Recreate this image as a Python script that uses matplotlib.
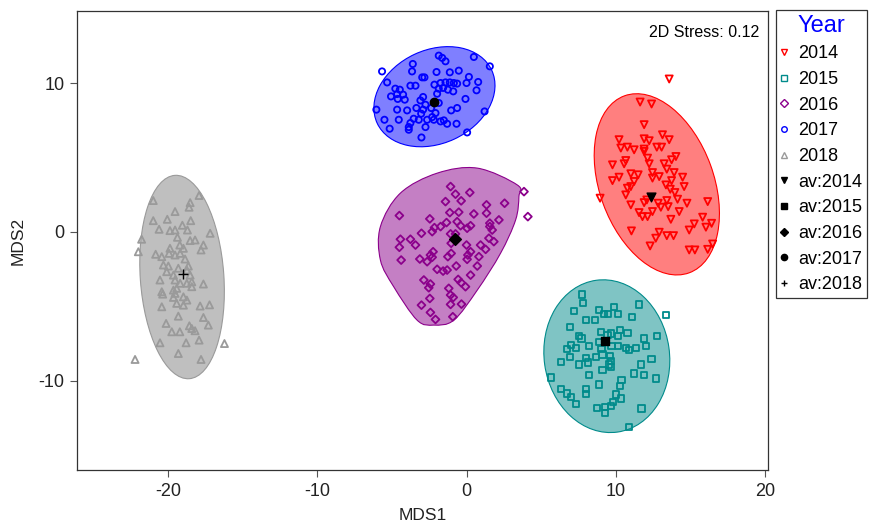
import numpy as np
import matplotlib
matplotlib.use("Agg")
import matplotlib.pyplot as plt
from matplotlib.patches import Ellipse, PathPatch
from matplotlib.path import Path
from matplotlib.lines import Line2D

plt.rcParams['font.family'] = ['Liberation Sans', 'DejaVu Sans']
plt.rcParams['axes.unicode_minus'] = False

years = ["2014", "2015", "2016", "2017", "2018"]

x_2014 = [13.58, 11.63, 12.40, 11.90, 10.22, 13.13, 13.58, 11.90, 12.24, 10.34, 10.78, 11.23, 11.90,
          11.90, 12.75, 13.07, 14.03, 13.74, 12.13, 12.24, 10.67, 10.56, 9.78, 13.24, 13.42, 12.46,
          11.01, 11.50, 10.22, 9.78, 12.46, 12.91, 13.91, 14.48, 11.23, 11.01, 13.74, 13.36, 14.58,
          10.78, 10.67, 13.65, 13.96, 14.14, 8.95, 11.90, 12.08, 11.01, 12.84, 13.42, 13.51, 13.02,
          14.77, 16.16, 11.56, 11.79, 12.13, 12.46, 14.25, 15.82, 13.69, 15.26, 14.92, 16.04, 16.42,
          11.05, 12.91, 12.68, 13.42, 13.87, 12.30, 16.49, 14.92, 15.30, 16.16]
y_2014 = [10.28, 8.73, 8.60, 7.21, 6.20, 6.53, 6.20, 6.26, 6.13, 5.64, 5.70, 5.52, 5.57,
          5.41, 5.70, 5.70, 5.07, 4.85, 4.96, 4.58, 4.80, 4.58, 4.51, 4.58, 4.22, 3.99,
          3.91, 3.84, 3.68, 3.45, 3.62, 3.72, 3.99, 3.68, 3.39, 3.05, 3.45, 3.16, 3.05,
          2.94, 2.49, 2.87, 2.65, 2.20, 2.27, 1.97, 2.15, 1.82, 1.93, 2.11, 1.70, 1.66,
          1.93, 2.04, 1.30, 1.03, 1.03, 1.37, 1.37, 0.99, 0.85, 0.54, 0.13, 0.32, 0.58,
          0.07, -0.02, -0.42, -0.25, -0.25, -0.94, -0.81, -1.21, -1.21, -1.17]

x_2015 = [7.72, 7.83, 7.20, 8.88, 9.89, 9.21, 9.48, 10.16, 11.57, 11.07, 13.36, 7.99, 8.59, 6.93,
          7.54, 7.70, 8.99, 9.66, 10.29, 10.78, 9.44, 10.16, 12.75, 11.90, 6.98, 6.71, 7.32, 8.21,
          8.88, 9.71, 10.16, 10.67, 10.89, 11.34, 12.01, 9.04, 6.93, 7.99, 8.68, 9.11, 9.62, 9.66,
          6.35, 7.54, 8.14, 9.55, 11.68, 12.40, 9.11, 9.66, 8.21, 11.23, 11.90, 12.68, 5.68, 8.88,
          10.29, 10.38, 6.35, 6.71, 6.98, 7.99, 7.99, 7.32, 10.00, 10.34, 9.84, 8.72, 9.26, 9.66,
          9.26, 11.72, 10.89]
y_2015 = [-4.20, -4.80, -5.30, -5.25, -5.03, -5.54, -5.52, -5.54, -4.87, -5.74, -5.59, -5.93, -5.93,
          -6.38, -7.00, -7.16, -6.75, -6.82, -6.60, -6.78, -6.94, -6.98, -6.98, -7.16, -7.61, -7.88,
          -7.79, -7.66, -7.39, -7.66, -7.68, -7.79, -7.95, -7.79, -7.66, -7.88, -8.40, -8.46, -8.40,
          -8.24, -8.35, -8.69, -8.73, -8.91, -8.78, -8.91, -8.91, -8.55, -9.29, -9.07, -9.63, -9.52,
          -9.63, -9.85, -9.79, -10.26, -10.35, -9.97, -10.53, -10.86, -11.09, -10.57, -10.91, -11.54,
          -10.93, -11.20, -11.43, -11.83, -11.76, -11.72, -12.17, -11.87, -13.11]

x_2016 = [-1.07, -0.74, 0.22, -1.41, -0.36, 3.85, 2.55, 1.34, -4.50, -1.12, -0.52, 0.49, 1.34, 4.11,
          -2.46, 2.17, -1.34, -1.74, -0.63, -0.40, 0.04, 0.27, 1.56, 1.56, 1.72, -2.30, -3.02, -2.15,
          -1.07, -0.74, -4.43, -3.76, 1.50, 1.83, -4.50, -3.42, -1.03, 0.00, 0.94, 1.28, -2.24, -2.42,
          -2.30, -2.64, -3.13, -1.25, -1.03, 0.09, 0.27, 0.04, 0.83, -4.38, -1.97, -1.57, -1.30, -0.69,
          0.72, -2.86, -2.42, -2.53, -1.19, -0.56, -0.36, 0.27, -0.07, -1.07, -0.89, -2.46, -3.02,
          -1.07, -0.34, -2.42, -2.08, -0.92]
y_2016 = [3.05, 2.54, 2.65, 2.04, 2.09, 2.71, 1.93, 1.82, 1.10, 1.30, 1.33, 1.21, 1.26, 1.03,
          0.88, 0.81, 0.63, 0.36, 0.69, 0.42, 0.25, 0.42, 0.59, 0.36, 0.13, 0.02, -0.09, 0.29,
          -0.13, -0.13, -0.49, -0.49, -0.42, -0.65, -1.03, -0.88, -0.76, -0.88, -0.88, -1.17, -1.33,
          -1.55, -1.70, -2.00, -1.82, -1.66, -1.44, -1.55, -1.33, -1.84, -1.66, -1.89, -2.51, -2.63,
          -2.56, -2.29, -2.29, -3.23, -3.50, -3.75, -3.79, -3.19, -3.41, -2.90, -3.68, -4.24, -4.40,
          -4.47, -4.92, -4.87, -4.85, -5.41, -5.88, -5.70]

x_2017 = [-5.66, -3.60, -3.65, -1.86, -1.63, -1.41, 0.49, 1.56, -2.97, -2.82, -2.01, -1.12, -0.52,
          -5.32, -4.77, -4.47, -3.76, -3.42, -2.15, -1.74, -1.41, -1.12, -0.85, -0.63, 0.16, 0.00,
          0.78, 0.67, -5.06, -4.65, -4.25, -4.61, -4.14, -1.86, -1.57, -1.25, -0.89, -1.97, -2.91,
          -3.09, -2.75, -1.86, -6.04, -4.65, -3.98, -3.36, -2.91, -2.37, -1.03, -0.63, -0.07, 1.21,
          -5.50, -4.54, -3.54, -3.20, -3.04, -2.64, -2.30, -2.08, -2.19, -1.74, -1.52, -1.30, -0.67,
          -3.76, -3.87, -5.15, -3.87, -2.75, 0.04, -3.02]
y_2017 = [10.79, 11.29, 10.79, 11.85, 11.70, 11.47, 11.76, 11.13, 10.39, 10.39, 10.75, 10.73, 10.84,
          10.05, 9.63, 9.56, 9.83, 9.83, 9.90, 10.01, 10.05, 10.05, 10.01, 9.97, 10.42, 10.01,
          10.08, 9.52, 9.11, 9.27, 9.23, 8.94, 8.89, 9.63, 9.68, 9.56, 9.45, 9.29, 9.07,
          8.84, 8.55, 8.67, 8.22, 8.22, 8.17, 8.33, 8.22, 8.33, 8.17, 8.33, 8.94, 8.10,
          7.54, 7.54, 7.61, 7.54, 7.95, 7.54, 7.72, 7.99, 7.54, 7.43, 7.50, 7.27, 7.27,
          7.32, 7.05, 6.94, 6.87, 7.05, 6.69, 6.35]

x_2018 = [-20.99, -17.92, -18.52, -18.59, -19.53, -20.99, -20.05, -18.48, -20.60, -19.87, -19.53,
          -19.04, -18.70, -17.18, -21.77, -18.52, -18.19, -19.37, -21.99, -20.83, -20.42, -19.87,
          -19.21, -19.93, -19.53, -19.19, -18.97, -17.63, -17.79, -18.86, -20.31, -19.98, -18.64,
          -20.09, -19.64, -19.31, -18.74, -18.52, -20.54, -19.53, -19.19, -18.74, -18.41, -18.41,
          -17.63, -20.42, -20.36, -19.64, -19.42, -19.53, -19.64, -18.97, -18.74, -20.42, -19.42,
          -18.97, -17.85, -17.22, -19.31, -17.63, -18.57, -17.30, -20.13, -19.75, -19.21, -18.41,
          -18.19, -20.54, -18.79, -17.92, -16.22, -22.21, -19.31, -17.79]
y_2018 = [2.11, 2.45, 1.97, 1.66, 1.37, 0.76, 0.85, 0.76, 0.18, 0.09, 0.13,
          0.45, 0.13, -0.09, -0.49, -0.58, -0.54, -0.36, -1.33, -1.50, -1.66, -1.10,
          -0.88, -1.44, -1.55, -1.44, -1.10, -0.88, -1.21, -1.82, -2.22, -2.29, -2.29,
          -2.67, -2.90, -2.44, -2.56, -2.90, -3.23, -3.23, -3.45, -3.45, -3.35, -3.68,
          -3.50, -4.02, -4.18, -3.91, -3.79, -4.13, -4.40, -4.36, -4.58, -5.03, -4.80,
          -4.92, -4.98, -4.90, -5.66, -5.75, -6.31, -6.26, -6.15, -6.71, -6.71, -6.49,
          -6.64, -7.45, -7.45, -7.27, -7.50, -8.57, -8.17, -8.57]

# group centroids
av_x = [12.35, 9.26, -0.74, -2.20, -19.00]
av_y = [2.36, -7.34, -0.47, 8.75, -2.83]

# ellipses: centre, width, height, angle (deg); 2016 is an outline instead
ell_cx = {"2014": 12.75, "2015": 9.40, "2017": -2.15, "2018": -19.06}
ell_cy = {"2014": 3.20, "2015": -8.35, "2017": 9.09, "2018": -3.03}
ell_w = {"2014": 7.65, "2015": 8.40, "2017": 8.46, "2018": 5.60}
ell_h = {"2014": 12.66, "2015": 10.30, "2017": 6.29, "2018": 13.70}
ell_ang = {"2014": 20, "2015": 8, "2017": 25, "2018": 4}

hull_x_2016 = [3.40, 0.72, -1.97, -4.43, -5.77, -5.77, -4.88, -3.31, -2.19, -0.85, 0.72, 2.28, 3.29, 3.51]
hull_y_2016 = [3.16, 4.29, 3.95, 2.61, 0.36, -1.89, -3.68, -5.93, -6.26, -5.93, -3.91, -1.43, 0.81, 2.38]

pts_x = {"2014": x_2014, "2015": x_2015, "2016": x_2016, "2017": x_2017, "2018": x_2018}
pts_y = {"2014": y_2014, "2015": y_2015, "2016": y_2016, "2017": y_2017, "2018": y_2018}

colors = {"2014": "#FF0000", "2015": "#008B8B", "2016": "#8B008B", "2017": "#0000FF", "2018": "#9A9A9A"}
fills = {"2014": "#FF0000", "2015": "#008B8B", "2016": "#8B008B", "2017": "#0000FF", "2018": "#808080"}
markers = {"2014": "v", "2015": "s", "2016": "D", "2017": "o", "2018": "^"}
msize = {"2014": 26, "2015": 20, "2016": 16, "2017": 20, "2018": 26}
av_markers = ["v", "s", "D", "o", "+"]
av_sizes = [40, 36, 36, 36, 60]


def smooth_closed(xs, ys):
    # closed Catmull-Rom curve through the outline points
    p = np.column_stack([xs, ys])
    n = len(p)
    verts = [p[0]]
    codes = [Path.MOVETO]
    for i in range(n):
        p0, p1, p2, p3 = p[i - 1], p[i], p[(i + 1) % n], p[(i + 2) % n]
        verts += [p1 + (p2 - p0) / 6, p2 - (p3 - p1) / 6, p2]
        codes += [Path.CURVE4] * 3
    return Path(verts, codes)


fig = plt.figure(figsize=(8.73, 5.27), dpi=100)
ax = fig.add_axes([77 / 873, 57 / 527, 691 / 873, 459 / 527])

for yr in years:
    if yr == "2016":
        patch = PathPatch(smooth_closed(hull_x_2016, hull_y_2016))
    else:
        patch = Ellipse((ell_cx[yr], ell_cy[yr]), ell_w[yr], ell_h[yr], angle=ell_ang[yr])
    patch.set_facecolor(matplotlib.colors.to_rgba(fills[yr], 0.5))
    patch.set_edgecolor(colors[yr])
    patch.set_linewidth(0.8)
    ax.add_patch(patch)

for yr in years:
    ax.scatter(pts_x[yr], pts_y[yr], s=msize[yr], marker=markers[yr], facecolors="none",
               edgecolors=colors[yr], linewidths=1.3, zorder=3)

for i, yr in enumerate(years):
    if av_markers[i] == "+":
        ax.scatter(av_x[i], av_y[i], s=av_sizes[i], marker="+", color="black", linewidths=1.0, zorder=4)
    else:
        ax.scatter(av_x[i], av_y[i], s=av_sizes[i], marker=av_markers[i], color="black", zorder=4)

ax.set_xlim(-26.1, 20.2)
ax.set_ylim(-16.0, 14.85)
ax.set_xticks([-20, -10, 0, 10, 20])
ax.set_yticks([-10, 0, 10])
ax.tick_params(direction="out", length=5, width=0.8, color="#555555", labelsize=13,
               labelcolor="#222222", pad=4)
for s in ax.spines.values():
    s.set_color("#333333")
    s.set_linewidth(0.9)
ax.set_xlabel("MDS1", fontsize=12.5, color="#222222", labelpad=6)
ax.set_ylabel("MDS2", fontsize=12.5, color="#222222", labelpad=9)

ax.text(0.988, 0.97, "2D Stress: 0.12", transform=ax.transAxes, ha="right", va="top",
        fontsize=11.5, color="black")

handles = []
labels = []
for yr in years:
    handles.append(Line2D([], [], linestyle="none", marker=markers[yr], markersize=4,
                          markerfacecolor="none", markeredgecolor=colors[yr], markeredgewidth=1.0))
    labels.append(yr)
for i, yr in enumerate(years):
    handles.append(Line2D([], [], linestyle="none", marker=av_markers[i], markersize=4.5,
                          color="black", markeredgewidth=1.0))
    labels.append("av:" + yr)

leg = fig.legend(handles, labels, title="Year", loc="upper left",
                 bbox_to_anchor=(776 / 873, 1 - 10 / 527), fontsize=13, title_fontsize=17,
                 frameon=True, fancybox=False, handlelength=0.4, handletextpad=0.6,
                 labelspacing=0.48, borderpad=0.25, borderaxespad=0)
leg.get_title().set_color("#0000FF")
leg.get_frame().set_edgecolor("black")
leg.get_frame().set_linewidth(0.9)

fig.savefig("out.png", dpi=100)
